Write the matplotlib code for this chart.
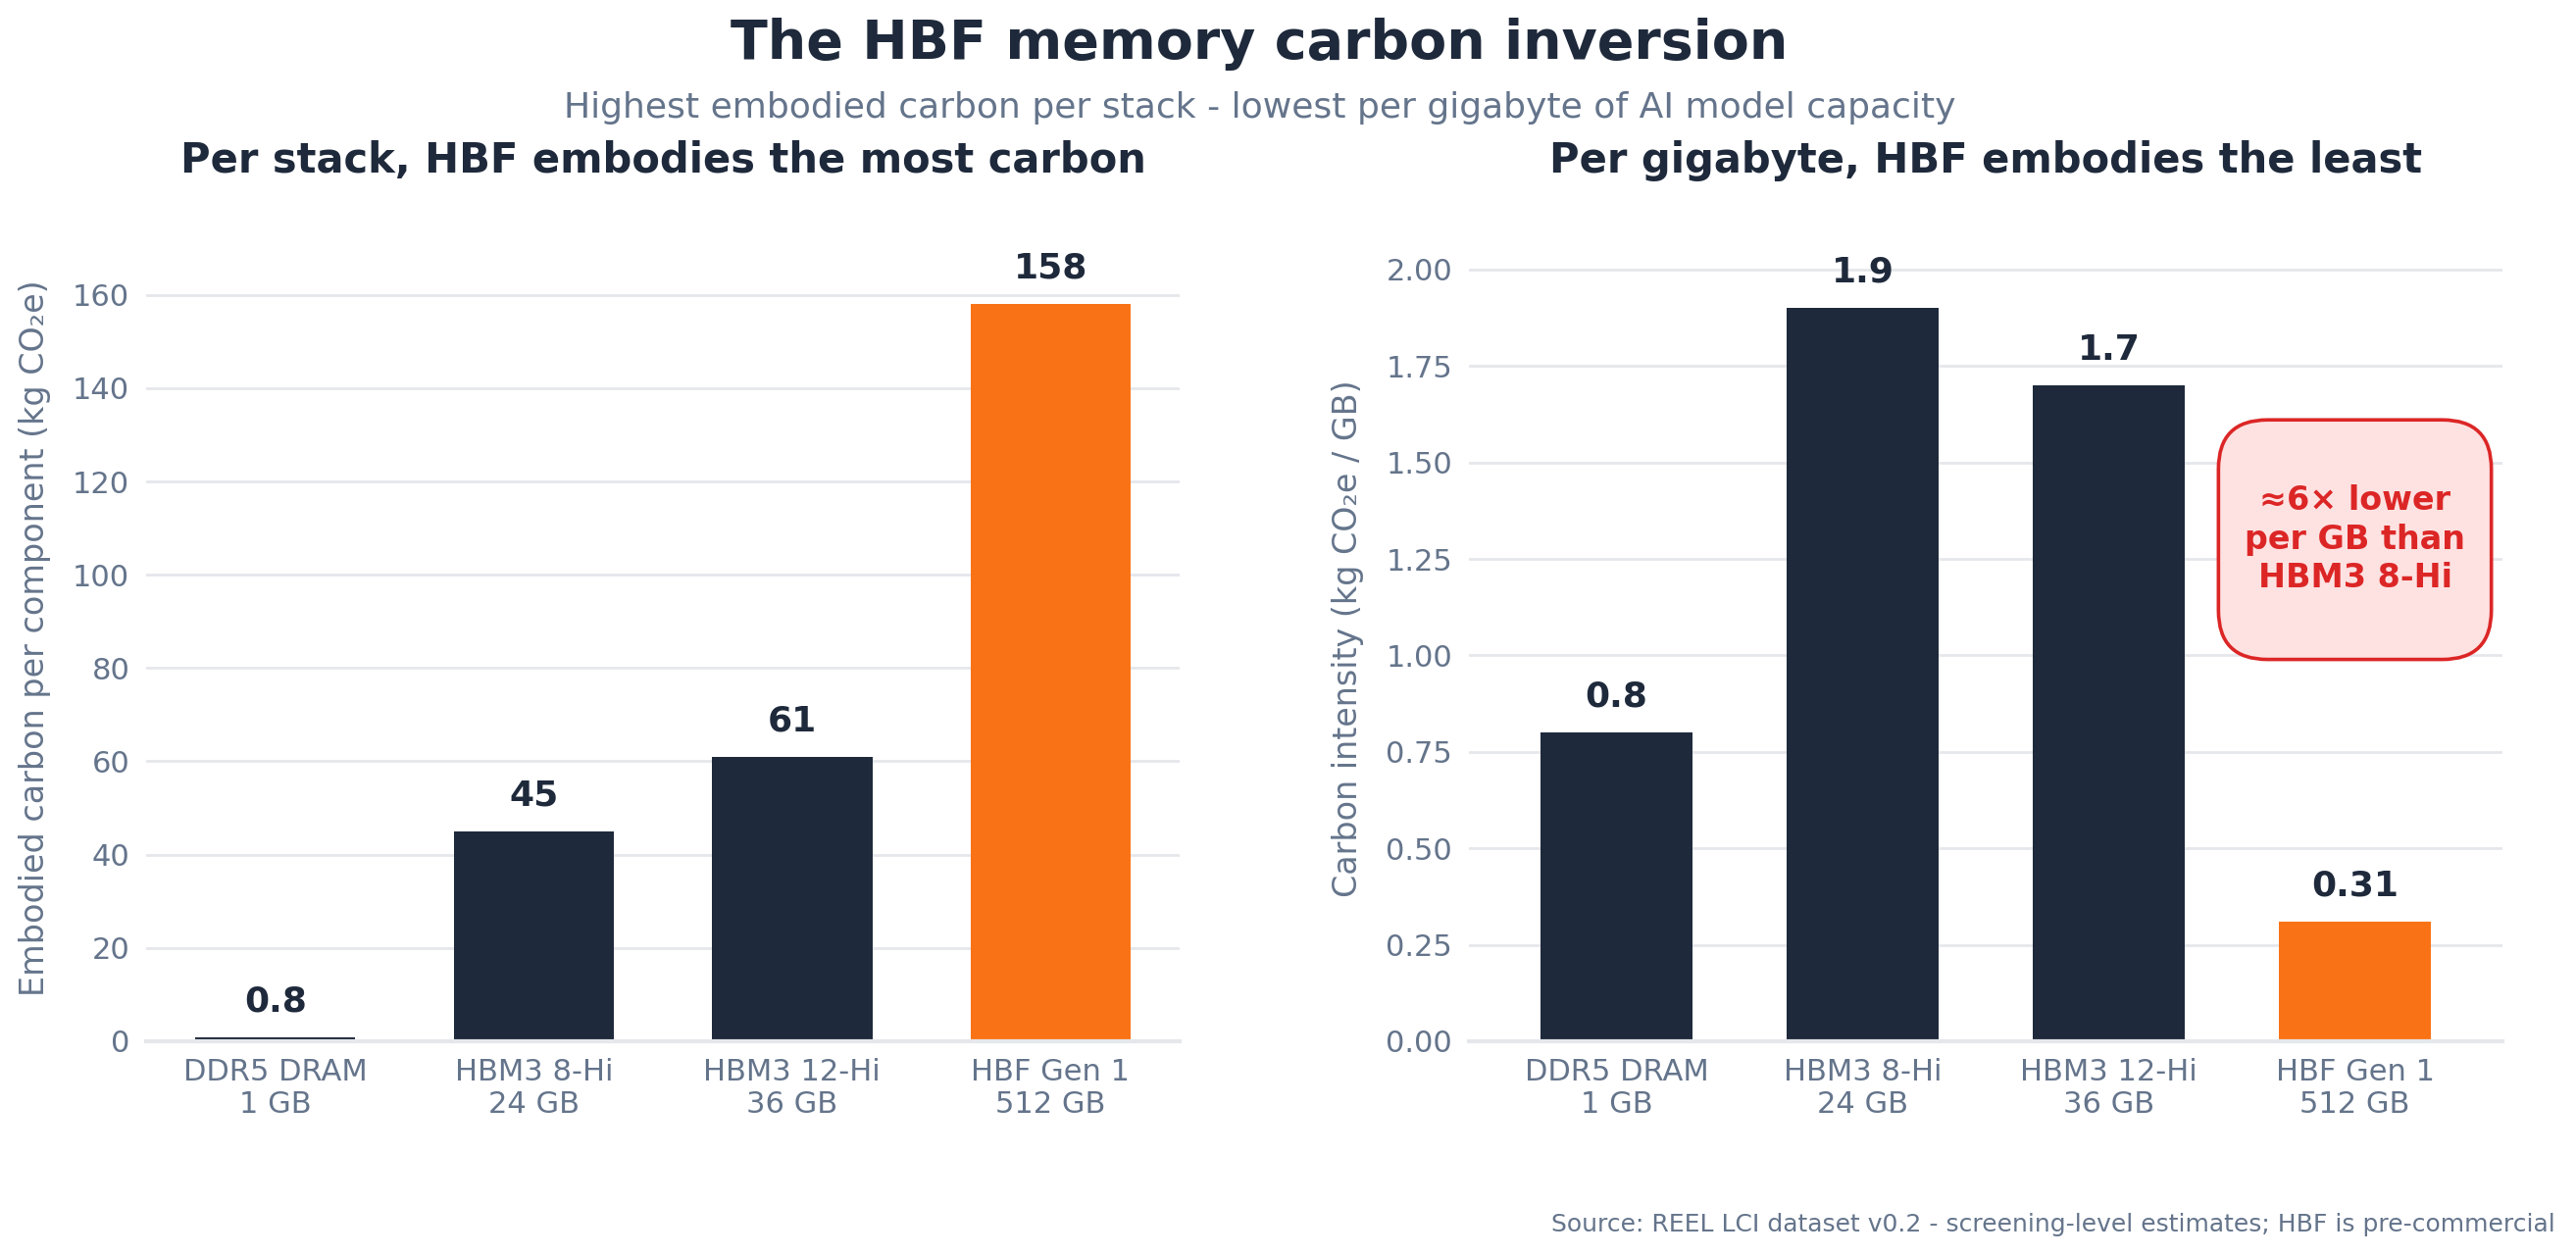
import matplotlib.pyplot as plt

# data
labels = ["DDR5 DRAM\n1 GB", "HBM3 8-Hi\n24 GB", "HBM3 12-Hi\n36 GB", "HBF Gen 1\n512 GB"]
per_stack = [0.8, 45, 61, 158]
per_gb = [0.8, 1.9, 1.7, 0.31]
stack_text = ["0.8", "45", "61", "158"]
gb_text = ["0.8", "1.9", "1.7", "0.31"]

navy = "#1e293b"
orange = "#f97316"
gray = "#64748b"
grid = "#e5e7eb"
red = "#dc2626"
bar_colors = [navy, navy, navy, orange]

fig = plt.figure(figsize=(2627 / 200, 1281 / 200), dpi=200)
ax1 = fig.add_axes([0.0567, 0.171, 0.4013, 0.642])
ax2 = fig.add_axes([0.5702, 0.171, 0.4013, 0.642])


def style(ax, ylabel, title):
    ax.set_axisbelow(True)
    ax.yaxis.grid(True, color=grid, lw=1.0)
    for s in ["top", "right", "left"]:
        ax.spines[s].set_visible(False)
    ax.spines["bottom"].set_color(grid)
    ax.spines["bottom"].set_linewidth(1.5)
    ax.tick_params(length=0, labelsize=11, colors=gray, pad=6)
    ax.set_ylabel(ylabel, fontsize=12, color=gray, labelpad=8)
    ax.set_title(title, fontsize=15, fontweight="bold", color=navy, pad=23)


x = range(len(labels))
ax1.bar(x, per_stack, width=0.62, color=bar_colors)
for i, v in enumerate(per_stack):
    ax1.annotate(stack_text[i], (i, v), xytext=(0, 7), textcoords="offset points",
                 ha="center", va="bottom", fontsize=13, fontweight="bold", color=navy)
ax1.set_xticks(list(x))
ax1.set_xticklabels(labels)
ax1.set_xlim(-0.5, 3.5)
ax1.set_ylim(0, max(per_stack) * 1.094)
ax1.set_yticks([0, 20, 40, 60, 80, 100, 120, 140, 160])
style(ax1, "Embodied carbon per component (kg CO\u2082e)", "Per stack, HBF embodies the most carbon")

ax2.bar(x, per_gb, width=0.62, color=bar_colors)
for i, v in enumerate(per_gb):
    ax2.annotate(gb_text[i], (i, v), xytext=(0, 7), textcoords="offset points",
                 ha="center", va="bottom", fontsize=13, fontweight="bold", color=navy)
ax2.set_xticks(list(x))
ax2.set_xticklabels(labels)
ax2.set_xlim(-0.6, 3.6)
ax2.set_ylim(0, max(per_gb) * 1.1)
ax2.set_yticks([0, 0.25, 0.5, 0.75, 1.0, 1.25, 1.5, 1.75, 2.0])
ax2.yaxis.set_major_formatter(plt.FormatStrFormatter("%.2f"))
style(ax2, "Carbon intensity (kg CO\u2082e / GB)", "Per gigabyte, HBF embodies the least")

ax2.text(3, 1.30, "\n\u22486\u00d7 lower\nper GB than\nHBM3 8-Hi\n", ha="center", va="center",
         fontsize=12, fontweight="bold", color=red, linespacing=1.25,
         bbox=dict(boxstyle="round,pad=0.8,rounding_size=1.5", fc="#fee2e2", ec=red, lw=1.3))

fig.text(0.489, 0.965, "The HBF memory carbon inversion", ha="center", va="center",
         fontsize=20, fontweight="bold", color=navy)
fig.text(0.489, 0.914, "Highest embodied carbon per stack - lowest per gigabyte of AI model capacity",
         ha="center", va="center", fontsize=13, color=gray)
fig.text(0.992, 0.025, "Source: REEL LCI dataset v0.2 - screening-level estimates; HBF is pre-commercial",
         ha="right", va="center", fontsize=9, color=gray)

fig.savefig("out.png", dpi=200)
